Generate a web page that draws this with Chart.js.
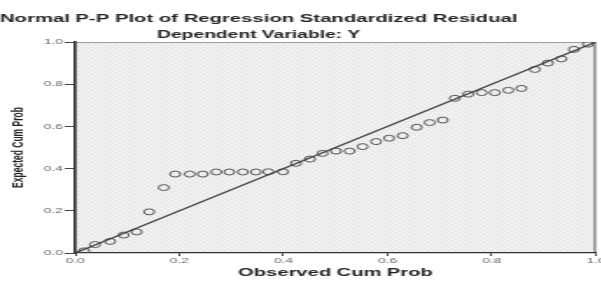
<!DOCTYPE html>
<html><head><meta charset="utf-8">
<script src="https://cdn.jsdelivr.net/npm/chart.js@4.4.1/dist/chart.umd.min.js"></script>
<style>
html,body{margin:0;padding:0;background:#fff;overflow:hidden;}
#wrap{position:relative;width:601px;height:282px;overflow:hidden;background:#fff;}
#c{position:absolute;left:0;top:0;transform:scaleX(1.75);transform-origin:0 0;}
</style></head><body>
<div id="wrap"><canvas id="c" width="346" height="282"></canvas></div>
<script>
// ---- chart text ----
const chartTitle = 'Normal P-P Plot of Regression Standardized Residual';
const chartSubtitle = 'Dependent Variable: Y';
const xAxisTitle = 'Observed Cum Prob';
const yAxisTitle = 'Expected Cum Prob';

// ---- data ----
const observedCumProb = [0.017, 0.038, 0.067, 0.093, 0.118, 0.142, 0.170, 0.192, 0.220, 0.245,
  0.271, 0.296, 0.322, 0.347, 0.371, 0.399, 0.424, 0.451, 0.475, 0.501,
  0.527, 0.552, 0.578, 0.603, 0.629, 0.656, 0.681, 0.706, 0.729, 0.755,
  0.781, 0.806, 0.832, 0.857, 0.883, 0.908, 0.934, 0.958, 0.985];
const expectedCumProb = [0.010, 0.040, 0.055, 0.085, 0.100, 0.195, 0.310, 0.374, 0.374, 0.374,
  0.384, 0.384, 0.384, 0.384, 0.385, 0.385, 0.425, 0.445, 0.472, 0.483,
  0.483, 0.504, 0.528, 0.544, 0.556, 0.596, 0.618, 0.630, 0.733, 0.753,
  0.760, 0.760, 0.771, 0.780, 0.870, 0.900, 0.920, 0.965, 0.990];
const referenceLineX = [0, 1];
const referenceLineY = [0, 1];
const tickValues = [0, 0.2, 0.4, 0.6, 0.8, 1.0];
const tickLabels = ['0.0', '0.2', '0.4', '0.6', '0.8', '1.0'];

const FONT = "'Liberation Sans', Arial, Helvetica, sans-serif";

const points = observedCumProb.map((x, i) => ({x: x, y: expectedCumProb[i]}));
const refLine = referenceLineX.map((x, i) => ({x: x, y: referenceLineY[i]}));

const framePlugin = {
  id: 'spssFrame',
  beforeDraw(chart) {
    const {ctx, chartArea: a} = chart;
    ctx.save();
    const tile = document.createElement('canvas');
    tile.width = 4; tile.height = 4;
    const t = tile.getContext('2d');
    t.fillStyle = '#ebebeb'; t.fillRect(0, 0, 4, 4);
    t.fillStyle = '#fdfdfd'; t.fillRect(0, 0, 1, 1); t.fillRect(2, 2, 1, 1);
    ctx.fillStyle = ctx.createPattern(tile, 'repeat');
    ctx.fillRect(a.left, a.top, a.right - a.left, a.bottom - a.top);
    ctx.lineWidth = 1;
    ctx.strokeStyle = '#a0a0a0';
    ctx.beginPath(); ctx.moveTo(a.left, a.top + 0.5); ctx.lineTo(a.right, a.top + 0.5); ctx.stroke();
    ctx.strokeStyle = '#555555';
    ctx.beginPath(); ctx.moveTo(a.right - 0.5, a.top); ctx.lineTo(a.right - 0.5, a.bottom); ctx.stroke();
    ctx.restore();
  },
  afterDraw(chart, args, opts) {
    const ctx = chart.ctx;
    ctx.save();
    ctx.fillStyle = '#222222';
    ctx.textAlign = 'center';
    ctx.textBaseline = 'alphabetic';
    ctx.font = 'bold 11.6px ' + FONT;
    ctx.fillText(chartTitle, opts.centerX, opts.titleY);
    ctx.font = 'bold 11px ' + FONT;
    ctx.fillText(chartSubtitle, opts.centerX, opts.subtitleY);
    ctx.restore();
  }
};

new Chart(document.getElementById('c'), {
  type: 'scatter',
  data: {
    datasets: [
      {
        data: points,
        pointStyle: 'circle',
        pointRadius: 3,
        pointBorderWidth: 1,
        pointBorderColor: '#555555',
        pointBackgroundColor: 'rgba(0,0,0,0)',
        showLine: false,
        order: 1
      },
      {
        data: refLine,
        showLine: true,
        pointRadius: 0,
        borderColor: '#3c3c3c',
        borderWidth: 1.2,
        order: 0
      }
    ]
  },
  options: {
    responsive: false,
    animation: false,
    devicePixelRatio: 1,
    layout: {padding: {top: 42, right: 5.5, left: 0, bottom: 0}},
    plugins: {
      legend: {display: false},
      tooltip: {enabled: false},
      spssFrame: {centerX: 147.8, titleY: 22, subtitleY: 38}
    },
    scales: {
      x: {
        type: 'linear', min: 0, max: 1,
        afterFit: s => { s.height = 29; },
        afterBuildTicks: s => { s.ticks = tickValues.map(v => ({value: v})); },
        grid: {drawOnChartArea: false, tickLength: 3, color: '#444444', tickWidth: 1},
        border: {color: '#333333', width: 1.3},
        ticks: {
          padding: 0, color: '#666666', maxRotation: 0, autoSkip: false,
          font: {size: 8, family: FONT},
          callback: (v, i) => tickLabels[i]
        },
        title: {
          display: true, text: xAxisTitle, color: '#222222',
          font: {size: 11.5, weight: 'bold', family: FONT},
          padding: {top: 0, bottom: 2}
        }
      },
      y: {
        type: 'linear', min: 0, max: 1,
        afterFit: s => { s.width = 43; },
        afterBuildTicks: s => { s.ticks = tickValues.map(v => ({value: v})); },
        grid: {drawOnChartArea: false, tickLength: 6, color: '#444444', tickWidth: 1},
        border: {color: '#333333', width: 1.7},
        ticks: {
          padding: 1, color: '#666666', autoSkip: false,
          font: {size: 8, family: FONT},
          callback: (v, i) => tickLabels[i]
        },
        title: {
          display: true, text: yAxisTitle, color: '#222222',
          font: {size: 8.5, weight: 'bold', family: FONT},
          padding: {top: 6, bottom: 0}
        }
      }
    }
  },
  plugins: [framePlugin]
});
</script>
</body></html>
